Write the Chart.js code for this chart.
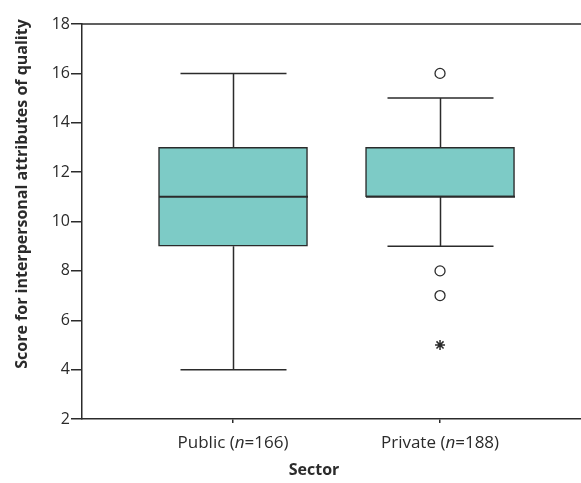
<!DOCTYPE html>
<html>
<head>
<meta charset="utf-8">
<script src="https://cdn.jsdelivr.net/npm/chart.js@4"></script>
<style>
html,body{margin:0;padding:0;background:#fff;}
#wrap{width:581px;height:483px;}
</style>
</head>
<body>
<div id="wrap"><canvas id="c" width="581" height="483"></canvas></div>
<script>
// ---- data ----
const categories = ['Public', 'Private'];
const sampleSizes = [166, 188];
const positions = [1, 2];
const whiskerLow = [4, 9];
const q1 = [9, 11];
const median = [11, 11];
const q3 = [13, 13];
const whiskerHigh = [16, 15];
const outlierCategory = [2, 2, 2];
const outlierValues = [16, 8, 7];
const extremeCategory = [2];
const extremeValues = [5];
const yTicks = [2, 4, 6, 8, 10, 12, 14, 16, 18];
const xTitle = 'Sector';
const yTitle = 'Score for interpersonal attributes of quality';

const FONT = "'Open Sans', 'DejaVu Sans', sans-serif";
const INK = '#2b2b2b';

const boxPlugin = {
  id: 'boxExtras',
  afterDatasetsDraw(chart) {
    const {ctx, scales: {x, y}, chartArea} = chart;
    ctx.save();
    ctx.strokeStyle = INK;
    ctx.lineWidth = 1.5;
    // top frame line
    ctx.beginPath();
    ctx.moveTo(chartArea.left, chartArea.top);
    ctx.lineTo(chartArea.right, chartArea.top);
    ctx.stroke();
    const capHalf = 53, boxHalf = 74.5;
    positions.forEach((p, i) => {
      const cx = Math.round(x.getPixelForValue(p)) + 0.5;
      ctx.beginPath();
      ctx.moveTo(cx, y.getPixelForValue(q3[i]));
      ctx.lineTo(cx, y.getPixelForValue(whiskerHigh[i]));
      ctx.moveTo(cx, y.getPixelForValue(q1[i]));
      ctx.lineTo(cx, y.getPixelForValue(whiskerLow[i]));
      ctx.moveTo(cx - capHalf, y.getPixelForValue(whiskerHigh[i]));
      ctx.lineTo(cx + capHalf, y.getPixelForValue(whiskerHigh[i]));
      ctx.moveTo(cx - capHalf, y.getPixelForValue(whiskerLow[i]));
      ctx.lineTo(cx + capHalf, y.getPixelForValue(whiskerLow[i]));
      ctx.stroke();
      ctx.beginPath();
      ctx.lineWidth = 2;
      ctx.moveTo(cx - boxHalf, y.getPixelForValue(median[i]));
      ctx.lineTo(cx + boxHalf, y.getPixelForValue(median[i]));
      ctx.stroke();
      ctx.lineWidth = 1.5;
    });
    ctx.restore();
  },
  afterDraw(chart) {
    const {ctx, scales: {x, y}, chartArea} = chart;
    ctx.save();
    ctx.fillStyle = INK;
    ctx.textBaseline = 'middle';
    // x tick labels with italic n
    positions.forEach((p, i) => {
      const parts = [
        ['normal', categories[i] + ' ('],
        ['italic', 'n'],
        ['normal', '=' + sampleSizes[i] + ')']
      ];
      let total = 0;
      parts.forEach(([st, t]) => { ctx.font = st + ' 400 17px ' + FONT; total += ctx.measureText(t).width; });
      let cx = x.getPixelForValue(p) - total / 2;
      const cy = chartArea.bottom + 24;
      ctx.textAlign = 'left';
      parts.forEach(([st, t]) => {
        ctx.font = st + ' 400 17px ' + FONT;
        ctx.fillText(t, cx, cy);
        cx += ctx.measureText(t).width;
      });
    });
    // axis titles
    ctx.font = 'bold 16px ' + FONT;
    ctx.textAlign = 'center';
    ctx.fillText(xTitle, 314, 470);
    ctx.translate(22, 194);
    ctx.rotate(-Math.PI / 2);
    ctx.fillText(yTitle, 0, 0);
    ctx.restore();
  }
};

const boxData = positions.map((p, i) => ({x: p, y: [q1[i], q3[i]]}));
const outlierData = outlierCategory.map((c, i) => ({x: c, y: outlierValues[i]}));
const extremeData = extremeCategory.map((c, i) => ({x: c, y: extremeValues[i]}));

new Chart(document.getElementById('c'), {
  type: 'bar',
  data: {
    datasets: [
      {
        type: 'bar',
        data: boxData,
        backgroundColor: '#7dcbc6',
        borderColor: INK,
        borderWidth: 1.5,
        borderSkipped: false,
        barThickness: 149
      },
      {
        type: 'scatter',
        data: outlierData,
        pointStyle: 'circle',
        pointRadius: 5,
        pointBackgroundColor: '#fff',
        pointBorderColor: INK,
        pointBorderWidth: 1.3
      },
      {
        type: 'scatter',
        data: extremeData,
        pointStyle: 'star',
        pointRadius: 5,
        pointBorderColor: INK,
        pointBorderWidth: 1.5
      }
    ]
  },
  options: {
    responsive: false,
    animation: false,
    layout: {autoPadding: false, padding: {top: 24, right: 0, left: 0, bottom: 0}},
    plugins: {legend: {display: false}, tooltip: {enabled: false}},
    scales: {
      x: {
        type: 'linear',
        min: 0.2705,
        max: 2.681,
        offset: false,
        afterBuildTicks(s) { s.ticks = positions.map(v => ({value: v})); },
        afterFit(s) { s.height = 64; s.paddingLeft = 0; s.paddingRight = 0; },
        border: {display: true, color: INK, width: 1.5},
        grid: {offset: false, drawOnChartArea: false, drawTicks: true, tickLength: 4, color: INK, lineWidth: 1.5},
        ticks: {display: false}
      },
      y: {
        min: 2,
        max: 18,
        afterBuildTicks(s) { s.ticks = yTicks.map(v => ({value: v})); },
        afterFit(s) { s.width = 82; },
        border: {display: true, color: INK, width: 1.5},
        grid: {drawOnChartArea: false, drawTicks: true, tickLength: 11, color: INK, lineWidth: 1.5},
        ticks: {color: INK, padding: 1, font: {size: 16, family: FONT}}
      }
    }
  },
  plugins: [boxPlugin]
});
</script>
</body>
</html>
